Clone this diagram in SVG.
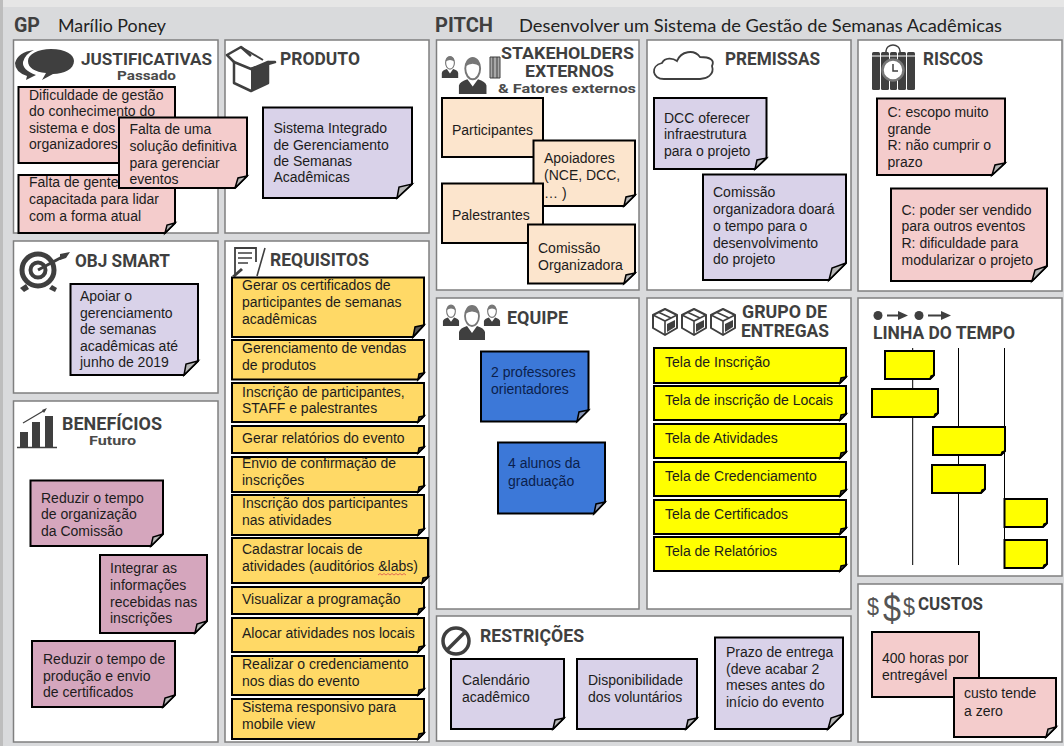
<svg xmlns="http://www.w3.org/2000/svg" xmlns:xlink="http://www.w3.org/1999/xlink" width="1064" height="746" viewBox="0 0 1064 746">
<style>
.p{fill:#fff;stroke:#7f7f7f;stroke-width:1.5}
.n{stroke:#000;stroke-width:2;stroke-linejoin:miter}
.f{fill:#b7b7b7;stroke:#000;stroke-width:1.5;stroke-linejoin:miter}
.fd{fill:#555;stroke:#000;stroke-width:1.5}
.fb{fill:#8795b5;stroke:#000;stroke-width:1.5}
.pk{fill:#f4cccc}.li{fill:#d9d2e9}.pe{fill:#fce5cd}.or{fill:#ffd966}.ye{fill:#ffff00}.bl{fill:#3c78d8}.ma{fill:#d5a6bd}
text{font-family:"Liberation Sans",Arial,sans-serif;font-size:14px;fill:#1c1c1c}
text.nv{fill:#0b1f4d}
text.h{font-family:Roboto,"Liberation Sans",sans-serif;font-weight:700;font-size:17.500px;fill:#3f3f3f}
text.s{font-family:Roboto,"Liberation Sans",sans-serif;font-weight:700;font-size:13px;fill:#4a4a4a}
text.g{fill:#555}
text.t{font-family:Lato,"Liberation Sans",sans-serif;font-size:17px;fill:#222}
.i{fill:#3f3f3f}
</style>
<defs>
<g id="person"><path class="i" d="M-13 34V26Q-12 22-5 20L0 27L5 20Q12 22 13 26V34Z"/><ellipse cx="0" cy="10" rx="7" ry="10" fill="#fff" stroke="#777" stroke-width="1.800"/><path d="M-7 8Q-6 0 0 0Q6 0 7 8Q0 3-7 8Z" fill="#777"/></g>
<g id="boxi"><path d="M1 8L13 2L25 8V21L13 28L1 21Z" fill="#fff" stroke="#3f3f3f" stroke-width="2" stroke-linejoin="round"/><path d="M1 8L13 14L25 8M13 14V28M6 5L19 11" fill="none" stroke="#3f3f3f" stroke-width="1.600"/><path class="i" d="M15 17L23 13V20L15 25Z"/></g>
</defs>
<rect width="1064" height="746" fill="#d9dadc"/>
<rect width="1064" height="7" fill="#e6e6e6"/>
<rect width="3" height="746" fill="#bdbdbd"/>
<g id="header">
<text class="h" x="14" y="32" textLength="26" lengthAdjust="spacingAndGlyphs" style="font-size:21px">GP</text>
<text class="t" x="58" y="32" textLength="108" lengthAdjust="spacingAndGlyphs">Marílio Poney</text>
<text class="h" x="435" y="32" textLength="58" lengthAdjust="spacingAndGlyphs" style="font-size:21px">PITCH</text>
<text class="t" x="519" y="32" textLength="483" lengthAdjust="spacingAndGlyphs">Desenvolver um Sistema de Gestão de Semanas Acadêmicas</text>
</g>
<g id="panels">
<rect class="p" x="13.500" y="40" width="204.500" height="193"/>
<rect class="p" x="225" y="40" width="204" height="193"/>
<rect class="p" x="13.500" y="241" width="204.500" height="152"/>
<rect class="p" x="13.500" y="401" width="204.500" height="341"/>
<rect class="p" x="225" y="241" width="204" height="501"/>
<rect class="p" x="436.500" y="40" width="202.500" height="250"/>
<rect class="p" x="647" y="40" width="204" height="250"/>
<rect class="p" x="858" y="40" width="204" height="251"/>
<rect class="p" x="436.500" y="298" width="202.500" height="311"/>
<rect class="p" x="647" y="298" width="204" height="311"/>
<rect class="p" x="858" y="298" width="204" height="278"/>
<rect class="p" x="858" y="584" width="204" height="158"/>
<rect class="p" x="436.500" y="616" width="414.500" height="125"/>
</g>
<g id="connectors" stroke="#000" stroke-width="1" fill="none">
<path d="M912.700 348V565M958.500 348V565M1004.500 348V565"/>
</g>
<g id="justificativas">
<path class="i" d="M34 50Q18 52 15 63Q15 72 27 76L26 80L36 75Q22 70 23 62Q25 54 34 50Z"/>
<path class="i" d="M51 49C66 49 74 55 74 61C74 69 64 74 53 74L42 80L46 73C35 72 28 68 28 61C28 54 38 49 51 49Z"/>
<text class="h" x="81" y="64.500" textLength="131" lengthAdjust="spacingAndGlyphs" style="font-size:16.500px">JUSTIFICATIVAS</text>
<text class="s" x="117" y="79.500" textLength="59" lengthAdjust="spacingAndGlyphs" style="font-size:12.500px">Passado</text>
</g>
<g id="j1"><path class="n pk" d="M18.500 87H175V163H18.500Z"/><text x="29" y="100">Dificuldade de gestão</text><text x="29" y="116">do conhecimento do</text><text x="29" y="133">sistema e dos</text><text x="29" y="149">organizadores</text></g>
<g id="j2"><path class="n pk" d="M18.500 175H175V223L165 233H18.500Z"/><path class="f" d="M175 223L165 233L167 225Z"/><text x="29" y="187">Falta de gente</text><text x="29" y="204">capacitada para lidar</text><text x="29" y="221">com a forma atual</text></g>
<g id="j3"><path class="n pk" d="M119 117.500H247V176L235 188H119Z"/><path class="f" d="M247 176L235 188L238 178Z"/><text x="129.500" y="134">Falta de uma</text><text x="129.500" y="151">solução definitiva</text><text x="129.500" y="168">para gerenciar</text><text x="129.500" y="184">eventos</text></g>
<g id="produto">
<path d="M234 62L251 69L268 62V83L251 91L234 83Z" fill="#fff" stroke="#3f3f3f" stroke-width="2.500" stroke-linejoin="round"/>
<path class="i" d="M251 70L268 63V83L251 90Z"/>
<path d="M234 62L227 55L241 47L251 56M251 69L275 62L268 62" fill="none" stroke="#3f3f3f" stroke-width="2.500" stroke-linejoin="round"/>
<path d="M241 47L263 60" stroke="#3f3f3f" stroke-width="2" fill="none"/>
<text class="h" x="280" y="65" textLength="80" lengthAdjust="spacingAndGlyphs">PRODUTO</text>
</g>
<g id="p1"><path class="n li" d="M263 107.500H412V184L397 198H263Z"/><path class="f" d="M412 184L397 198L399 187Z"/><text x="273.500" y="133">Sistema Integrado</text><text x="273.500" y="150">de Gerenciamento</text><text x="273.500" y="166">de Semanas</text><text x="273.500" y="182">Acadêmicas</text></g>
<g id="obj">
<circle cx="38" cy="270" r="16" fill="none" stroke="#3f3f3f" stroke-width="5"/>
<circle cx="38" cy="270" r="7.500" fill="none" stroke="#3f3f3f" stroke-width="4"/>
<path d="M38 270L66 255" stroke="#3f3f3f" stroke-width="3"/>
<path class="i" d="M60 254L70 252L66 258L60 260Z"/>
<path class="i" d="M20 288l6-4 3 5-5 3zM52 285l5 3-2 4-6-3z"/>
<text class="h" x="75" y="267" textLength="95" lengthAdjust="spacingAndGlyphs">OBJ SMART</text>
</g>
<g id="o1"><path class="n li" d="M70.500 284H198V361L184 375H70.500Z"/><path class="f" d="M198 361L184 375L186 364Z"/><text x="80" y="301">Apoiar o</text><text x="80" y="318">gerenciamento</text><text x="80" y="334">de semanas</text><text x="80" y="351">acadêmicas até</text><text x="80" y="367">junho de 2019</text></g>
<g id="beneficios">
<path class="i" d="M20 432H28V447H20ZM32 422H40V447H32ZM45 416H53V447H45Z"/>
<path d="M17 447.500H57" stroke="#3f3f3f" stroke-width="1.500"/>
<path d="M23 423L45 410" stroke="#3f3f3f" stroke-width="1.200"/>
<path class="i" d="M47 408L44 413L42 410Z"/>
<text class="h" x="62" y="430" textLength="100" lengthAdjust="spacingAndGlyphs">BENEFÍCIOS</text>
<text class="s" x="89" y="445" textLength="47" lengthAdjust="spacingAndGlyphs">Futuro</text>
</g>
<g id="b1"><path class="n ma" d="M30.500 480.500H163V534L151 546H30.500Z"/><path class="f" d="M163 534L151 546L153 537Z"/><text x="41" y="503">Reduzir o tempo</text><text x="41" y="519">de organização</text><text x="41" y="536">da Comissão</text></g>
<g id="b2"><path class="n ma" d="M100 555H207V621L195 633H100Z"/><path class="f" d="M207 621L195 633L197 624Z"/><text x="110" y="573">Integrar as</text><text x="110" y="590">informações</text><text x="110" y="607">recebidas nas</text><text x="110" y="623">inscrições</text></g>
<g id="b3"><path class="n ma" d="M32 641H175V695L163 707H32Z"/><path class="f" d="M175 695L163 707L165 698Z"/><text x="43" y="664">Reduzir o tempo de</text><text x="43" y="681">produção e envio</text><text x="43" y="697">de certificados</text></g>
<g id="requisitos">
<path d="M235 276V248H256V262" fill="none" stroke="#3f3f3f" stroke-width="1.800"/>
<path d="M238 253H252M238 258H252M238 263H248M265 248L257 276" fill="none" stroke="#3f3f3f" stroke-width="1.600"/>
<path class="i" d="M232 276L241 268L243 270L235 277Z"/>
<text class="h" x="270" y="266" textLength="99" lengthAdjust="spacingAndGlyphs">REQUISITOS</text>
</g>
<g id="r1"><path class="n or" d="M232 277.500H424V325L413 337H232Z"/><path class="fd" d="M424 325L413 337L415 327Z"/><text x="242" y="290">Gerar os certificados de</text><text x="242" y="307">participantes de semanas</text><text x="242" y="324">acadêmicas</text></g>
<g id="r2"><path class="n or" d="M232 340H424V373L418 379.500H232Z"/><path class="fd" d="M424 373L418 379.500L419 374Z"/><text x="242" y="353">Gerenciamento de vendas</text><text x="242" y="370">de produtos</text></g>
<g id="r3"><path class="n or" d="M232 383H424V416L418 422H232Z"/><path class="fd" d="M424 416L418 422L419 417Z"/><text x="242" y="397">Inscrição de participantes,</text><text x="242" y="413">STAFF e palestrantes</text></g>
<g id="r4"><path class="n or" d="M232 426H424V447L418 453H232Z"/><path class="fd" d="M424 447L418 453L419 448Z"/><text x="242" y="443">Gerar relatórios do evento</text></g>
<g id="r5"><path class="n or" d="M232 457H424V486L418 492H232Z"/><path class="fd" d="M424 486L418 492L419 487Z"/><text x="242" y="468">Envio de confirmação de</text><text x="242" y="485">inscrições</text></g>
<g id="r6"><path class="n or" d="M232 495H424V529L418 535H232Z"/><path class="fd" d="M424 529L418 535L419 530Z"/><text x="242" y="508">Inscrição dos participantes</text><text x="242" y="525">nas atividades</text></g>
<g id="r7"><path class="n or" d="M232 538H428V577L422 583H232Z"/><path class="fd" d="M428 577L422 583L423 578Z"/><text x="242" y="554">Cadastrar locais de</text><text x="242" y="571">atividades (auditórios &amp;labs)</text><path d="M378 575l2-1.500 2 1.500 2-1.500 2 1.500 2-1.500 2 1.500 2-1.500 2 1.500 2-1.500 2 1.500 2-1.500 2 1.500 2-1.500 2 1.500" fill="none" stroke="#d9534f" stroke-width=".8"/></g>
<g id="r8"><path class="n or" d="M232 587H424V608L418 614H232Z"/><path class="fd" d="M424 608L418 614L419 609Z"/><text x="242" y="604">Visualizar a programação</text></g>
<g id="r9"><path class="n or" d="M232 618H424V646L418 652H232Z"/><path class="fd" d="M424 646L418 652L419 647Z"/><text x="242" y="638">Alocar atividades nos locais</text></g>
<g id="r10"><path class="n or" d="M232 656H424V689L418 695H232Z"/><path class="fd" d="M424 689L418 695L419 690Z"/><text x="242" y="669">Realizar o credenciamento</text><text x="242" y="686">nos dias do evento</text></g>
<g id="r11"><path class="n or" d="M232 699H424V733L418 739H232Z"/><path class="fd" d="M424 733L418 739L419 734Z"/><text x="242" y="712">Sistema responsivo para</text><text x="242" y="729">mobile view</text></g>
<g id="stakeholders">
<use xlink:href="#person" href="#person" transform="translate(450 56.500) scale(.63)"/>
<use xlink:href="#person" href="#person" transform="translate(472.700 58) scale(1.060)"/>
<path d="M490 57H500V78H490Z" fill="#a8a8a8" stroke="#3f3f3f"/><path d="M493 57V78M497 57V78" stroke="#3f3f3f"/>
<text class="h" x="501" y="58.500" textLength="133" lengthAdjust="spacingAndGlyphs" style="font-size:16.200px">STAKEHOLDERS</text>
<text class="h" x="525" y="77" textLength="89" lengthAdjust="spacingAndGlyphs" style="font-size:16.200px">EXTERNOS</text>
<text class="s" x="498" y="93" textLength="138" lengthAdjust="spacingAndGlyphs" style="font-size:13.500px">&amp; Fatores externos</text>
</g>
<g id="s1"><path class="n pe" d="M442 98H543V157H442Z"/><text x="452" y="135">Participantes</text></g>
<g id="s2"><path class="n pe" d="M533.500 140.500H635V195L624 206H533.500Z"/><path class="f" d="M635 195L624 206L626 197Z"/><text x="544" y="163">Apoiadores</text><text x="544" y="180">(NCE, DCC,</text><text x="544" y="198">… )</text></g>
<g id="s3"><path class="n pe" d="M442 183.500H543V243H442Z"/><text x="452" y="220">Palestrantes</text></g>
<g id="s4"><path class="n pe" d="M528 224.500H635V273L624 283.500H528Z"/><path class="f" d="M635 273L624 283.500L626 275Z"/><text x="538" y="253">Comissão</text><text x="538" y="270">Organizadora</text></g>
<g id="premissas">
<path d="M664 79C652 79 650 66 662 63C665 57 673 58 677 61C681 51 694 49 700 57C710 57 715 60 712 66C715 75 706 79 700 79Z" fill="none" stroke="#3f3f3f" stroke-width="1.800"/>
<text class="h" x="725" y="65" textLength="95" lengthAdjust="spacingAndGlyphs">PREMISSAS</text>
</g>
<g id="pr1"><path class="n li" d="M654 98H766.500V158L755 169H654Z"/><path class="f" d="M766.500 158L755 169L757 160Z"/><text x="664" y="123">DCC oferecer</text><text x="664" y="139">infraestrutura</text><text x="664" y="156">para o projeto</text></g>
<g id="pr2"><path class="n li" d="M703 174.500H846V263L829 280H703Z"/><path class="f" d="M846 263L829 280L832 268Z"/><text x="713" y="197">Comissão</text><text x="713" y="214">organizadora doará</text><text x="713" y="231">o tempo para o</text><text x="713" y="248">desenvolvimento</text><text x="713" y="264">do projeto</text></g>
<g id="riscos">
<rect class="i" x="872" y="52" width="8" height="38" rx="1.500"/><rect class="i" x="881" y="52" width="8" height="38" rx="1.500"/><rect class="i" x="890" y="52" width="7" height="38" rx="1.500"/><rect class="i" x="898" y="52" width="8" height="38" rx="1.500"/><rect class="i" x="907" y="52" width="8" height="38" rx="1.500"/>
<path d="M872 56H915" stroke="#fff" stroke-width="1"/>
<path d="M886 52V51a7 6 0 0 1 14 0V52" fill="none" stroke="#3f3f3f" stroke-width="1.500"/>
<circle cx="893" cy="70" r="10.500" fill="#fff" stroke="#777" stroke-width="2.500"/>
<path d="M893 64V71H898" fill="none" stroke="#3f3f3f" stroke-width="1.500"/>
<text class="h" x="923" y="65" textLength="60" lengthAdjust="spacingAndGlyphs">RISCOS</text>
</g>
<g id="ri1"><path class="n pk" d="M877 98.500H1005V163L992 175H877Z"/><path class="f" d="M1005 163L992 175L995 165Z"/><text x="887.500" y="117">C: escopo muito</text><text x="887.500" y="134">grande</text><text x="887.500" y="150">R: não cumprir o</text><text x="887.500" y="167">prazo</text></g>
<g id="ri2"><path class="n pk" d="M891 188.500H1047V266L1032 281H891Z"/><path class="f" d="M1047 266L1032 281L1035 270Z"/><text x="901.500" y="215">C: poder ser vendido</text><text x="901.500" y="231">para outros eventos</text><text x="901.500" y="248">R: dificuldade para</text><text x="901.500" y="265">modularizar o projeto</text></g>
<g id="equipe">
<use xlink:href="#person" href="#person" transform="translate(451 305) scale(.62)"/>
<use xlink:href="#person" href="#person" transform="translate(472 306)"/>
<use xlink:href="#person" href="#person" transform="translate(492 305) scale(.62)"/>
<text class="h" x="507" y="324" textLength="61" lengthAdjust="spacingAndGlyphs">EQUIPE</text>
</g>
<g id="e1"><path class="n bl" d="M481 351.500H588.500V410L577 421.500H481Z"/><path class="fb" d="M588.500 410L577 421.500L579 412Z"/><text class="nv" x="491" y="377">2 professores</text><text class="nv" x="491" y="394">orientadores</text></g>
<g id="e2"><path class="n bl" d="M498 442.500H605V502L594 513.500H498Z"/><path class="fb" d="M605 502L594 513.500L596 504Z"/><text class="nv" x="508" y="468">4 alunos da</text><text class="nv" x="508" y="486">graduação</text></g>
<g id="grupo">
<use xlink:href="#boxi" href="#boxi" transform="translate(652 307)"/>
<use xlink:href="#boxi" href="#boxi" transform="translate(681 307)"/>
<use xlink:href="#boxi" href="#boxi" transform="translate(710 307)"/>
<text class="h" x="742" y="318" textLength="85" lengthAdjust="spacingAndGlyphs">GRUPO DE</text>
<text class="h" x="741" y="337" textLength="88" lengthAdjust="spacingAndGlyphs">ENTREGAS</text>
</g>
<g id="g1"><path class="n ye" d="M654 348H846V377L840 383H654Z"/><path class="fd" d="M846 377L840 383L841 378Z"/><text x="665" y="367">Tela de Inscrição</text></g>
<g id="g2"><path class="n ye" d="M654 386H846V414L840 420H654Z"/><path class="fd" d="M846 414L840 420L841 415Z"/><text x="665" y="405">Tela de inscrição de Locais</text></g>
<g id="g3"><path class="n ye" d="M654 424H846V452L840 458H654Z"/><path class="fd" d="M846 452L840 458L841 453Z"/><text x="665" y="443">Tela de Atividades</text></g>
<g id="g4"><path class="n ye" d="M654 462H846V490L840 496H654Z"/><path class="fd" d="M846 490L840 496L841 491Z"/><text x="665" y="481">Tela de Credenciamento</text></g>
<g id="g5"><path class="n ye" d="M654 500H846V528L840 534H654Z"/><path class="fd" d="M846 528L840 534L841 529Z"/><text x="665" y="519">Tela de Certificados</text></g>
<g id="g6"><path class="n ye" d="M654 537H846V565L840 571H654Z"/><path class="fd" d="M846 565L840 571L841 566Z"/><text x="665" y="556">Tela de Relatórios</text></g>
<g id="linha">
<circle cx="878" cy="315.500" r="4.500" class="i"/><circle cx="919" cy="315.500" r="4.500" class="i"/>
<path d="M887 315.500H900M928 315.500H942" stroke="#3f3f3f" stroke-width="2"/>
<path class="i" d="M908 315.500L898 311V320ZM951 315.500L941 311V320Z"/>
<text class="h" x="873" y="339" textLength="142" lengthAdjust="spacingAndGlyphs">LINHA DO TEMPO</text>
</g>
<g id="l1"><path class="n ye" d="M885 351H934V375L930 379H885Z"/><path class="fd" d="M934 375L930 379L931 376Z"/></g>
<g id="l2"><path class="n ye" d="M872 389H938V413L934 417H872Z"/><path class="fd" d="M938 413L934 417L935 414Z"/></g>
<g id="l3"><path class="n ye" d="M933 427H1005V451L1001 455H933Z"/><path class="fd" d="M1005 451L1001 455L1002 452Z"/></g>
<g id="l4"><path class="n ye" d="M932 465H985V489L981 493H932Z"/><path class="fd" d="M985 489L981 493L982 490Z"/></g>
<g id="l5"><path class="n ye" d="M1004.500 499H1047V523L1043 527H1004.500Z"/><path class="fd" d="M1047 523L1043 527L1044 524Z"/></g>
<g id="l6"><path class="n ye" d="M1004.500 540H1047V564L1043 568H1004.500Z"/><path class="fd" d="M1047 564L1043 568L1044 565Z"/></g>
<g id="custos">
<text class="g" x="867" y="615" textLength="12" lengthAdjust="spacingAndGlyphs" style="font-size:23px">$</text>
<text class="g" x="883" y="622" textLength="18" lengthAdjust="spacingAndGlyphs" style="font-size:39px">$</text>
<text class="g" x="903" y="615" textLength="12" lengthAdjust="spacingAndGlyphs" style="font-size:23px">$</text>
<text class="h" x="918" y="610" textLength="65" lengthAdjust="spacingAndGlyphs">CUSTOS</text>
</g>
<g id="c1"><path class="n pk" d="M872 632H979V697H872Z"/><text x="882" y="663">400 horas por</text><text x="882" y="680">entregável</text></g>
<g id="c2"><path class="n pk" d="M954 678H1056V727L1046 737H954Z"/><path class="f" d="M1056 727L1046 737L1048 729Z"/><text x="964" y="698">custo tende</text><text x="964" y="716">a zero</text></g>
<g id="restricoes">
<circle cx="456" cy="641" r="13" fill="none" stroke="#3f3f3f" stroke-width="3.500"/>
<path d="M447 650L465 632" stroke="#3f3f3f" stroke-width="3.500"/>
<text class="h" x="480" y="642" textLength="104" lengthAdjust="spacingAndGlyphs">RESTRIÇÕES</text>
</g>
<g id="re1"><path class="n li" d="M451 659H564V718L553 729H451Z"/><path class="f" d="M564 718L553 729L555 720Z"/><text x="462" y="685">Calendário</text><text x="462" y="702">acadêmico</text></g>
<g id="re2"><path class="n li" d="M577 659H697V718L686 729H577Z"/><path class="f" d="M697 718L686 729L688 720Z"/><text x="588" y="685">Disponibilidade</text><text x="588" y="702">dos voluntários</text></g>
<g id="re3"><path class="n li" d="M715 637.500H843V714L828 729H715Z"/><path class="f" d="M843 714L828 729L831 718Z"/><text x="726" y="657">Prazo de entrega</text><text x="726" y="674">(deve acabar 2</text><text x="726" y="690">meses antes do</text><text x="726" y="707">início do evento</text></g>
</svg>
